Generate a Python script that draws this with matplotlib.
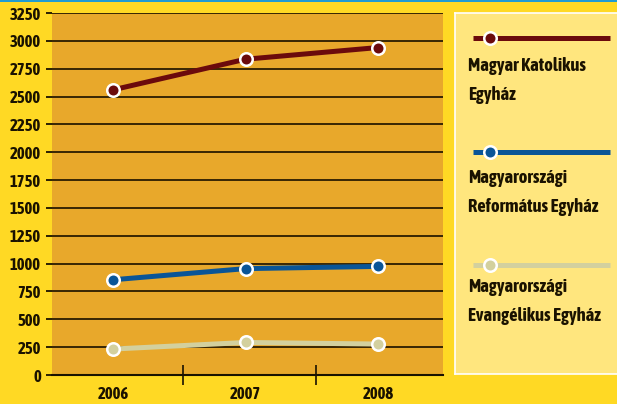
import matplotlib
matplotlib.use("Agg")
import matplotlib.pyplot as plt
from matplotlib.lines import Line2D

# data
years = ["2006", "2007", "2008"]
katolikus = [2560, 2835, 2940]
reformatus = [855, 955, 975]
evangelikus = [233, 292, 278]
labels = ["Magyar Katolikus\nEgyház",
          "Magyarországi\nReformátus Egyház",
          "Magyarországi\nEvangélikus Egyház"]
yticks = list(range(0, 3251, 250))

COLORS = ["#6B0A0C", "#0A5597", "#D3D09E"]
BG = "#FFD924"
PLOT_BG = "#E8A82B"
LEG_BG = "#FFE67E"
INK = "#1a1200"

plt.rcParams["font.family"] = ["Asap Condensed", "DejaVu Sans"]
plt.rcParams["font.weight"] = "bold"

W, H = 617, 404
fig = plt.figure(figsize=(W / 100, H / 100), dpi=100, facecolor=BG)

# main axes, pixel box 52..443 x 13..375
ax = fig.add_axes([52 / W, (H - 375) / H, (443 - 52) / W, (375 - 13) / H])
ax.set_facecolor(PLOT_BG)
x = [0, 1, 2]
for vals, c in zip([katolikus, reformatus, evangelikus], COLORS):
    ax.plot(x, vals, color=c, lw=3.6, solid_capstyle="butt", zorder=3)
    ax.plot(x, vals, ls="none", marker="o", ms=9, mfc=c, mec="white",
            mew=1.8, zorder=4)

ax.set_ylim(0, 3250)
ax.set_xlim(-0.46, 2.49)
ax.set_yticks(yticks)
ax.set_yticklabels([str(v) for v in yticks], fontsize=12, fontweight="bold")
ax.tick_params(axis="y", length=4, width=1.3, color=INK, labelcolor=INK, pad=4)
ax.yaxis.grid(True, color="#2a1c00", lw=1.3)
ax.set_axisbelow(True)

ax.set_xticks(x)
ax.set_xticklabels(years, fontsize=12, fontweight="bold")
ax.tick_params(axis="x", which="major", length=0, pad=8, labelcolor=INK)
ax.set_xticks([0.53, 1.53], minor=True)
ax.tick_params(axis="x", which="minor", direction="inout", length=15,
               width=1.2, color=INK)

for s in ["top", "right", "left"]:
    ax.spines[s].set_visible(False)
ax.spines["bottom"].set_color(INK)
ax.spines["bottom"].set_linewidth(1.5)

# legend box, pixel box 455..617 x 13..374
lax = fig.add_axes([455 / W, (H - 374) / H, (W - 455 + 5) / W, (374 - 13) / H])
lax.set_xlim(455, W + 5)
lax.set_ylim(374, 13)
lax.set_facecolor(LEG_BG)
for s in lax.spines.values():
    s.set_color("white")
    s.set_linewidth(1.2)
lax.set_xticks([])
lax.set_yticks([])

line_y = [38, 152, 265]
text_y = [57, 169, 278]
for ly, ty, c, lab in zip(line_y, text_y, COLORS, labels):
    lax.plot([473, 610], [ly, ly], color=c, lw=3.6, solid_capstyle="butt")
    lax.plot([490], [ly], ls="none", marker="o", ms=9, mfc=c, mec="white",
             mew=1.8)
    lax.text(468, ty, lab, fontsize=13.3, fontweight="bold", color=INK,
             va="top", ha="left", linespacing=1.78)

# thin blue rule along the top edge
fig.add_artist(Line2D([0, 1], [0.998, 0.998], transform=fig.transFigure,
                      color="#1A9AD6", lw=1.4))

fig.savefig("out.png", dpi=100, facecolor=BG)
